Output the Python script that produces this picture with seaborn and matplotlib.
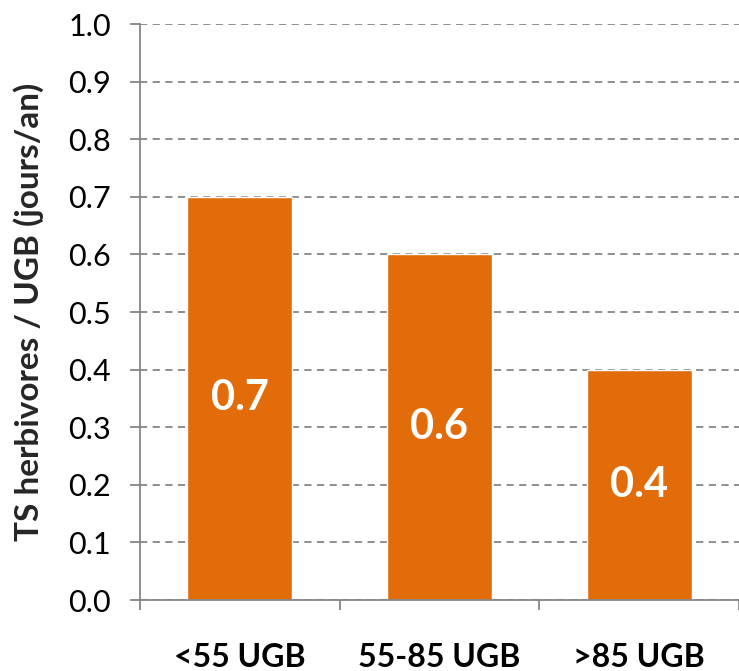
import matplotlib
matplotlib.use("Agg")

import matplotlib.pyplot as plt
import pandas as pd
import seaborn as sns

# data
categories = ["<55 UGB", "55-85 UGB", ">85 UGB"]
values = [0.7, 0.6, 0.4]
value_labels = ["0.7", "0.6", "0.4"]
y_ticks = [0.0, 0.1, 0.2, 0.3, 0.4, 0.5, 0.6, 0.7, 0.8, 0.9, 1.0]
y_label = "TS herbivores / UGB (jours/an)"

ORANGE = "#E36C0A"
GREY = "#868686"

sns.set_theme(style="white")
plt.rcParams["font.family"] = ["Lato", "DejaVu Sans"]

df = pd.DataFrame({"cat": categories, "val": values})

fig = plt.figure(figsize=(7.39, 6.71), dpi=100)
ax = fig.add_axes([0.1894, 0.1058, 0.8106, 0.8584])

sns.barplot(data=df, x="cat", y="val", color=ORANGE, width=0.525,
            saturation=1, ax=ax, zorder=3)

ax.set_xlim(-0.5, 2.5)
ax.set_ylim(0, 1.0)
ax.set_yticks(y_ticks)
ax.set_yticklabels([f"{t:.1f}" for t in y_ticks], fontsize=22, color="black")
ax.yaxis.grid(True, linestyle=(0, (4, 3)), color=GREY, linewidth=1.3, zorder=0)
ax.tick_params(axis="y", length=7, width=1.3, color=GREY, pad=14, left=True)

# category labels, boundary ticks below
ax.set_xticks([-0.5, 0.5, 1.5, 2.5], minor=True)
ax.tick_params(axis="x", which="minor", length=7, width=1.3, color=GREY,
               bottom=True, direction="out")
ax.tick_params(axis="x", which="major", length=0, pad=31)
ax.set_xticklabels(categories, fontsize=23, fontweight="bold", color="black")
ax.set_xlabel("")

ax.set_ylabel(y_label, fontsize=24, fontweight="bold")
ax.yaxis.set_label_coords(-0.16, 0.5)

for spine in ["top", "right"]:
    ax.spines[spine].set_visible(False)
for spine in ["left", "bottom"]:
    ax.spines[spine].set_color(GREY)
    ax.spines[spine].set_linewidth(1.3)
    ax.spines[spine].set_zorder(4)

for i, (v, lab) in enumerate(zip(values, value_labels)):
    ax.text(i, v / 2, lab, ha="center", va="center", color="white",
            fontsize=30, fontweight="bold", zorder=5)

fig.savefig("out.png", dpi=100)
